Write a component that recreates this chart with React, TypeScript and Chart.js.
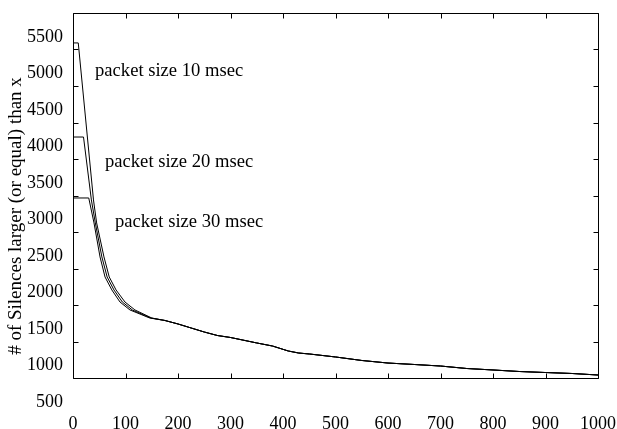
import { useEffect, useRef } from "react";
import { Chart, registerables } from "chart.js";

Chart.register(...registerables);

// ---- data ----
const xTickValues = [0, 100, 200, 300, 400, 500, 600, 700, 800, 900, 1000];
const yTickValues = [500, 1000, 1500, 2000, 2500, 3000, 3500, 4000, 4500, 5000, 5500];

// head (steep) parts of each series
const x10 = [0, 10, 39, 45, 59, 69, 82, 99, 118, 150];
const y10 = [5090, 5090, 2939, 2624, 2158, 1884, 1706, 1541, 1432, 1322];
const x20 = [0, 20, 35, 42.5, 55, 65, 78, 94, 113, 148];
const y20 = [3801, 3801, 2939, 2624, 2158, 1884, 1706, 1541, 1432, 1322];
const x30 = [0, 30, 40, 51.5, 61, 74, 89.5, 108.5, 146];
const y30 = [2966, 2966, 2624, 2158, 1884, 1706, 1541, 1432, 1322];

// common tail (the three curves coincide)
const tailX = [175, 200, 225, 250, 275, 300, 350, 380, 410, 430, 450, 500, 550, 600, 650, 700, 750, 800, 850, 900, 950, 1000];
const tailY = [1288, 1240, 1185, 1130, 1082, 1055, 980, 938, 870, 842, 829, 788, 740, 705, 685, 664, 630, 610, 589, 575, 562, 541];

const seriesNames = ["packet size 10 msec", "packet size 20 msec", "packet size 30 msec"];
const labelX = [42, 61, 80];
const labelY = [4700, 3455, 2630];

const yTitle = "# of Silences larger (or equal) than x";

const FONT = "'Liberation Serif', 'Times New Roman', serif";

function pts(xs: number[], ys: number[]) {
  const a = xs.map((x, i) => ({ x, y: ys[i] }));
  const b = tailX.map((x, i) => ({ x, y: tailY[i] }));
  return a.concat(b);
}

const framePlugin = {
  id: "frame",
  afterDatasetsDraw(chart: any) {
    const { ctx, chartArea } = chart;
    const { left, right, top, bottom } = chartArea;
    const xs = chart.scales.x;
    const ys = chart.scales.y;
    const L = Math.round(left) + 0.5;
    const R = Math.round(right) + 0.5;
    const T = Math.round(top) + 0.5;
    const B = Math.round(bottom) + 0.5;
    const tl = 5;
    ctx.save();
    ctx.strokeStyle = "#000";
    ctx.lineWidth = 1;
    ctx.beginPath();
    ctx.rect(L, T, R - L, B - T);
    for (const v of xTickValues) {
      const p = Math.round(xs.getPixelForValue(v)) + 0.5;
      ctx.moveTo(p, B);
      ctx.lineTo(p, B - tl);
      ctx.moveTo(p, T);
      ctx.lineTo(p, T + tl);
    }
    for (const v of yTickValues) {
      const p = Math.round(ys.getPixelForValue(v)) + 0.5;
      ctx.moveTo(L, p);
      ctx.lineTo(L + tl, p);
      ctx.moveTo(R, p);
      ctx.lineTo(R - tl, p);
    }
    ctx.stroke();

    // annotations
    ctx.fillStyle = "#000";
    ctx.font = `18.6px ${FONT}`;
    ctx.textAlign = "left";
    ctx.textBaseline = "middle";
    seriesNames.forEach((t, i) => {
      ctx.fillText(t, xs.getPixelForValue(labelX[i]), ys.getPixelForValue(labelY[i]));
    });

    // y axis title
    ctx.font = `19px ${FONT}`;
    ctx.translate(16, 216);
    ctx.rotate(-Math.PI / 2);
    ctx.textAlign = "center";
    ctx.fillText(yTitle, 0, 0);
    ctx.restore();
  },
};

export default function App() {
  const ref = useRef<HTMLCanvasElement | null>(null);

  useEffect(() => {
    document.body.style.margin = "0";
    const canvas = ref.current;
    if (!canvas) return;
    const mk = (xs: number[], ys: number[], label: string) => ({
      label,
      data: pts(xs, ys),
      borderColor: "#000",
      borderWidth: 1,
      pointRadius: 0,
      fill: false,
      tension: 0,
    });
    const chart = new Chart(canvas, {
      type: "line",
      data: {
        datasets: [
          mk(x10, y10, seriesNames[0]),
          mk(x20, y20, seriesNames[1]),
          mk(x30, y30, seriesNames[2]),
        ],
      },
      options: {
        animation: false,
        responsive: false,
        devicePixelRatio: 1,
        layout: { padding: { top: 13, right: 19, left: 0, bottom: 0 } },
        plugins: {
          legend: { display: false },
          tooltip: { enabled: false },
        },
        scales: {
          x: {
            type: "linear",
            min: xTickValues[0],
            max: xTickValues[xTickValues.length - 1],
            afterBuildTicks: (s: any) => {
              s.ticks = xTickValues.map((v) => ({ value: v }));
            },
            afterFit: (s: any) => {
              s.height = 51;
              s.paddingLeft = 0;
              s.paddingRight = 0;
            },
            grid: { display: false, drawTicks: false },
            border: { display: false },
            ticks: {
              color: "#000",
              font: { family: FONT, size: 18 },
              padding: 35,
              maxRotation: 0,
              autoSkip: false,
              callback: (v: any) => String(v),
            },
          },
          y: {
            type: "linear",
            min: yTickValues[0],
            max: yTickValues[yTickValues.length - 1],
            afterBuildTicks: (s: any) => {
              s.ticks = yTickValues.map((v) => ({ value: v }));
            },
            afterFit: (s: any) => {
              s.width = 73;
              s.paddingTop = 0;
              s.paddingBottom = 0;
            },
            grid: { display: false, drawTicks: false },
            border: { display: false },
            ticks: {
              color: "#000",
              font: { family: FONT, size: 18 },
              padding: 10,
              labelOffset: 24,
              autoSkip: false,
              callback: (v: any) => String(v),
            },
          },
        },
      },
      plugins: [framePlugin],
    });
    return () => chart.destroy();
  }, []);

  return (
    <div style={{ width: 617, height: 429 }}>
      <canvas ref={ref} width={617} height={429} style={{ display: "block" }} />
    </div>
  );
}
